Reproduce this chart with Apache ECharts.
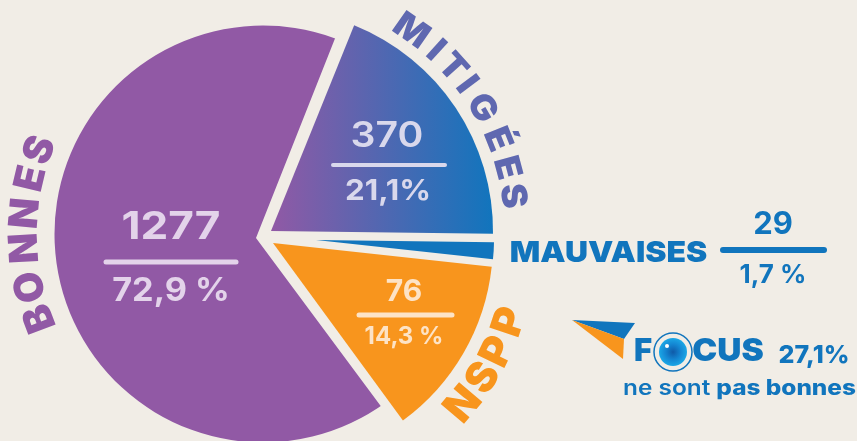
<!DOCTYPE html>
<html>
<head>
<meta charset="utf-8">
<style>
  html, body { margin: 0; padding: 0; background: #f1ede6; }
  #chart { width: 857px; height: 441px; }
</style>
</head>
<body>
<div id="chart"></div>
<script src="https://cdn.jsdelivr.net/npm/echarts@6/dist/echarts.min.js"></script>
<script>
const categories = ['BONNES', 'MITIGÉES', 'MAUVAISES', 'NSPP'];
const counts = ['1277', '370', '29', '76'];
const percents = ['72,9 %', '21,1%', '1,7 %', '14,3 %'];
// angle of each slice as drawn, in degrees (the picture is not to scale with its percents)
const drawnAngles = [238.2, 68.7, 5.5, 47.6];
const focusText = 'FOCUS';
const focusPercent = '27,1%';

const FONT = 'Inter, Lato, sans-serif';
const BG = '#f1ede6';
const PURPLE = '#9159a5';
const BLUE = '#1175bd';
const ORANGE = '#f8951d';

let myChart = echarts.init(document.getElementById('chart'), null, { renderer: 'canvas' });

// first angle of the chain: Mitigées starts here and goes clockwise
const startMitigees = 68;
const startMauvaises = startMitigees - drawnAngles[1];
const startNspp = startMauvaises - drawnAngles[2];
const startBonnes = startNspp - drawnAngles[3];

function slice(name, angle, start, center, r, color, z) {
  return {
    type: 'pie',
    name: name,
    silent: true,
    z: z,
    center: center,
    radius: [0, r],
    startAngle: start,
    clockwise: true,
    avoidLabelOverlap: false,
    label: { show: false },
    labelLine: { show: false },
    data: [
      { value: angle, itemStyle: { color: color } },
      { value: 360 - angle, itemStyle: { color: 'rgba(0,0,0,0)' } }
    ]
  };
}

function txt(text, x, y, size, weight, fill, sx) {
  return {
    type: 'text',
    z: 10,
    x: x,
    y: y,
    scaleX: sx || 1,
    style: {
      text: text,
      x: 0,
      y: 0,
      fill: fill,
      font: weight + ' ' + size + 'px ' + FONT,
      textAlign: 'center',
      textVerticalAlign: 'middle'
    }
  };
}

function rule(x1, x2, y, w, color) {
  return {
    type: 'line',
    z: 10,
    shape: { x1: x1, y1: y, x2: x2, y2: y },
    style: { stroke: color, lineWidth: w, lineCap: 'round' }
  };
}

// letters set one by one on a circle; inward = letter tops point at the pie
function curved(word, angles, cx, cy, R, size, fill, inward, sx) {
  return word.split('').map(function (ch, i) {
    let a = angles[i] * Math.PI / 180;
    let rot = inward ? a + Math.PI / 2 : a - Math.PI / 2;
    return {
      type: 'text',
      z: 10,
      x: cx + R * Math.cos(a),
      y: cy - R * Math.sin(a),
      rotation: rot,
      scaleX: sx,
      style: {
        text: ch,
        fill: fill,
        font: '900 ' + size + 'px ' + FONT,
        textAlign: 'center',
        textVerticalAlign: 'middle'
      }
    };
  });
}

let option = {
  backgroundColor: BG,
  animation: false,
  series: [
    // Bonnes is a disc with its own centre; the wedge on top cuts the notch
    slice(categories[0], 360, startBonnes, [263, 234], 208.5, PURPLE, 1),
    slice('notch', 360 - drawnAngles[0], startMitigees + 0.4, [256, 238], 235, BG, 2),
    slice(categories[1], drawnAngles[1], startMitigees, [271, 231], 222,
      new echarts.graphic.LinearGradient(0, 0, 1, 0, [
        { offset: 0, color: PURPLE },
        { offset: 1, color: BLUE }
      ]), 3),
    slice(categories[2], drawnAngles[2], startMauvaises, [316, 240], 178, BLUE, 3),
    slice(categories[3], drawnAngles[3], startNspp, [273, 243], 220, ORANGE, 3)
  ],
  graphic: [].concat(
    [
      txt(counts[0], 171, 228, 38, 700, '#e3d3ea', 1.16),
      rule(106, 236, 262, 5, '#e3d3ea'),
      txt(percents[0], 171, 291, 32, 700, '#e3d3ea', 1.07),

      txt(counts[1], 387, 136, 35, 600, '#d9d8ec', 1.12),
      rule(333, 445, 165, 4, '#d9d8ec'),
      txt(percents[1], 388, 191, 29, 700, '#d9d8ec', 1.08),

      txt(counts[3], 404, 292, 30, 700, '#fde3c6'),
      rule(359, 452, 315, 5, '#fde3c6'),
      txt(percents[3], 404, 337, 24, 700, '#fde3c6'),

      txt(categories[2], 608.5, 253, 29, 900, BLUE, 1.1),
      txt(counts[2], 773, 225, 31, 700, BLUE),
      rule(723, 824, 250, 6, BLUE),
      txt(percents[2], 773, 275, 26, 700, BLUE),

      // little arrow of the FOCUS logo
      { type: 'polygon', z: 10, shape: { points: [[572, 320], [635, 323], [624, 339]] }, style: { fill: BLUE } },
      { type: 'polygon', z: 10, shape: { points: [[572, 320], [624, 339], [623, 359]] }, style: { fill: ORANGE } },

      txt(focusText[0], 643, 352, 31, 900, BLUE),
      txt(focusText.slice(2), 728, 352, 31, 900, BLUE, 1.08),
      { type: 'circle', z: 10, shape: { cx: 673, cy: 352, r: 19 }, style: { fill: 'none', stroke: BLUE, lineWidth: 1.5 } },
      {
        type: 'circle', z: 10, shape: { cx: 673, cy: 352, r: 14 },
        style: {
          fill: new echarts.graphic.RadialGradient(0.5, 0.5, 0.5, [
            { offset: 0, color: '#0f5aa8' },
            { offset: 0.55, color: '#1486d2' },
            { offset: 1, color: '#1ba7e6' }
          ])
        }
      },
      { type: 'circle', z: 10, shape: { cx: 667, cy: 346, r: 2 }, style: { fill: '#ffffff' } },

      txt(focusPercent, 814, 355, 25, 800, BLUE),
      {
        type: 'text',
        z: 10,
        x: 739.5,
        y: 389,
        scaleX: 1.16,
        style: {
          text: '{a|ne sont }{b|pas bonnes}',
          textAlign: 'center',
          textVerticalAlign: 'middle',
          rich: {
            a: { font: '600 21px ' + FONT, fill: BLUE },
            b: { font: '800 21px ' + FONT, fill: BLUE }
          }
        }
      }
    ],
    curved(categories[0], [200.7, 192.8, 183.4, 175, 166.6, 159.4], 263, 234, 238, 40, PURPLE, false, 1),
    curved(categories[1], [55, 47.6, 42, 36.8, 30.2, 22, 15, 8.2], 271, 231, 244, 35, '#5f68b0', false, 1.05),
    curved(categories[3], [-40.3, -32.7, -25.8, -18.4], 273, 243, 250, 42, ORANGE, true, 1)
  )
};

myChart.setOption(option);
</script>
</body>
</html>
